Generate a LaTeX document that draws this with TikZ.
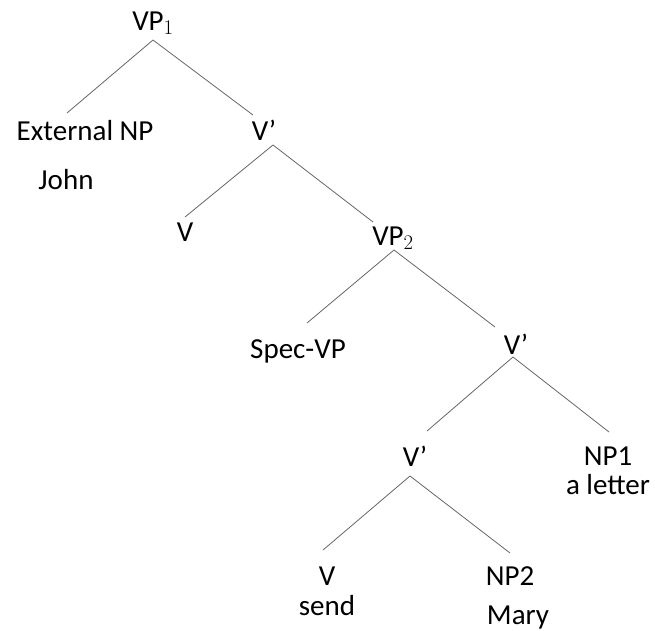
\documentclass[tikz,border=0pt]{standalone}
\usepackage{fontspec}
\setmainfont{Carlito}

\begin{document}
\begin{tikzpicture}[x=1pt,y=-1pt]
\tikzstyle{lbl}=[anchor=base,inner sep=0pt,font=\fontsize{29}{30}\selectfont]
\tikzstyle{branch}=[draw=black!60,line width=0.8pt]
\useasboundingbox (0,0) rectangle (655,630);
% labels
\node[lbl] (vp1) at (153,30) {VP$_1$};
\node[lbl] (ext) at (85,140) {External NP};
\node[lbl] (john) at (66,189) {John};
\node[lbl] (vbar1) at (264,140) {V’};
\node[lbl] (v1) at (185,241) {V};
\node[lbl] (vp2) at (393,245) {VP$_2$};
\node[lbl] (spec) at (298,358) {Spec-VP};
\node[lbl] (vbar2) at (516,354) {V’};
\node[lbl] (vbar3) at (415,466) {V’};
\node[lbl] (np1) at (608,465) {NP1};
\node[lbl] (letter) at (608,494) {a letter};
\node[lbl] (v2) at (327,585) {V};
\node[lbl] (send) at (327,615) {send};
\node[lbl] (np2) at (510,585) {NP2};
\node[lbl] (mary) at (518,624) {Mary};
% branches
\draw[branch] ([yshift=-10pt]vp1.base) -- ([xshift=-18pt,yshift=27pt]ext.base);
\draw[branch] ([yshift=-10pt]vp1.base) -- ([xshift=-11pt,yshift=25pt]vbar1.base);
\draw[branch] ([xshift=9pt,yshift=-5pt]vbar1.base) -- ([yshift=24pt]v1.base);
\draw[branch] ([xshift=9pt,yshift=-5pt]vbar1.base) -- ([xshift=-20pt,yshift=23pt]vp2.base);
\draw[branch] ([xshift=1pt,yshift=-5pt]vp2.base) -- ([xshift=9pt,yshift=35pt]spec.base);
\draw[branch] ([xshift=1pt,yshift=-5pt]vp2.base) -- ([xshift=-21pt,yshift=27pt]vbar2.base);
\draw[branch] ([xshift=-3pt,yshift=-3pt]vbar2.base) -- ([xshift=12pt,yshift=35pt]vbar3.base);
\draw[branch] ([xshift=-3pt,yshift=-3pt]vbar2.base) -- ([xshift=1pt,yshift=33pt]np1.base);
\draw[branch] ([xshift=-5pt,yshift=-10pt]vbar3.base) -- ([xshift=-4pt,yshift=35pt]v2.base);
\draw[branch] ([xshift=-5pt,yshift=-10pt]vbar3.base) -- ([yshift=32pt]np2.base);
\end{tikzpicture}
\end{document}
